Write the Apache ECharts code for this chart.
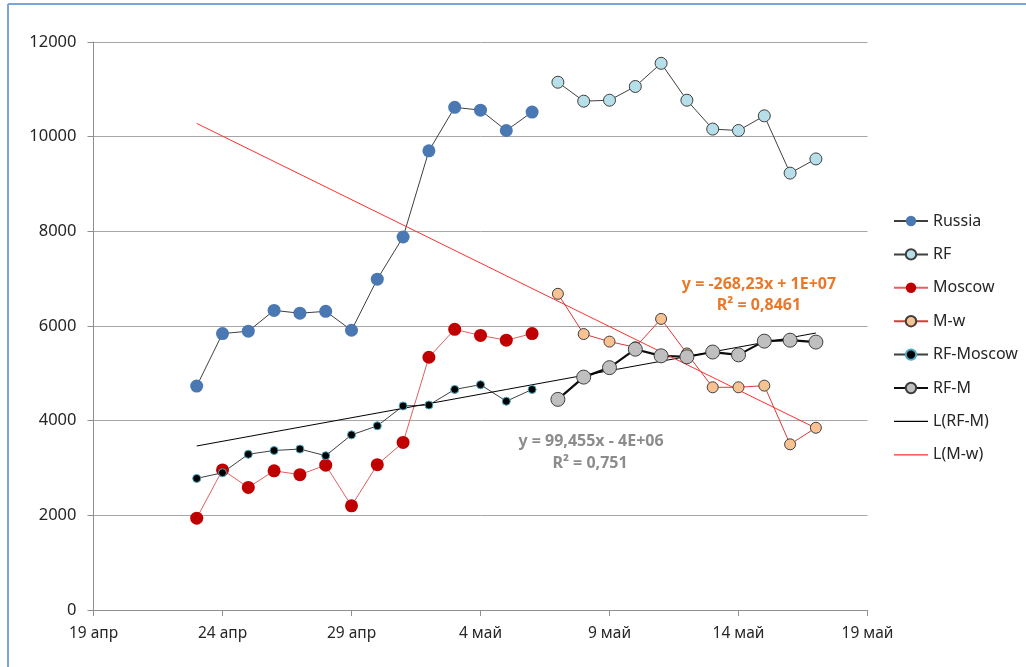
<!DOCTYPE html>
<html>
<head>
<meta charset="utf-8">
<script src="https://cdn.jsdelivr.net/npm/echarts@6/dist/echarts.min.js"></script>
<style>
html,body{margin:0;padding:0;background:#fff;}
#c{width:1026px;height:667px;}
</style>
</head>
<body>
<div id="c"></div>
<script>
// ---- data ----
const axisStart = '2020-04-19';
const tickLabels = ['19 апр', '24 апр', '29 апр', '4 май', '9 май', '14 май', '19 май'];
const yTicks = [0, 2000, 4000, 6000, 8000, 10000, 12000];

const datesA = ['2020-04-23','2020-04-24','2020-04-25','2020-04-26','2020-04-27','2020-04-28','2020-04-29',
                '2020-04-30','2020-05-01','2020-05-02','2020-05-03','2020-05-04','2020-05-05','2020-05-06'];
const datesB = ['2020-05-07','2020-05-08','2020-05-09','2020-05-10','2020-05-11','2020-05-12','2020-05-13',
                '2020-05-14','2020-05-15','2020-05-16','2020-05-17'];

const russia   = [4730, 5840, 5890, 6330, 6270, 6310, 5910, 6990, 7880, 9700, 10620, 10560, 10130, 10520];
const moscow   = [1940, 2960, 2590, 2940, 2860, 3060, 2200, 3070, 3540, 5340, 5930, 5800, 5700, 5840];
const rfMoscow = [2780, 2900, 3290, 3370, 3400, 3260, 3700, 3890, 4310, 4330, 4660, 4760, 4410, 4660];

const rf  = [11150, 10750, 10770, 11060, 11550, 10770, 10160, 10130, 10440, 9230, 9530];
const mw  = [6680, 5830, 5670, 5550, 6150, 5420, 4705, 4705, 4740, 3500, 3850];
const rfM = [4450, 4920, 5120, 5510, 5370, 5350, 5450, 5390, 5680, 5700, 5660];

const trendDates = ['2020-04-23', '2020-05-17'];
const trendRFM = [3465, 5852];
const trendMw  = [10280, 3842];

const eqMw  = ['y = -268,23x + 1E+07', 'R² = 0,8461'];
const eqRFM = ['y = 99,455x - 4E+06', 'R² = 0,751'];

// ---- helpers ----
const DAY = 86400000;
const t0 = Date.parse(axisStart);
const dayOf = d => Math.round((Date.parse(d) - t0) / DAY);
const pairs = (dates, vals) => vals.map((v, i) => [dayOf(dates[i]), v]);

const font = '"Noto Sans", "Open Sans", sans-serif';
const lineIcon = 'path://M0,0 L34,0 L34,1.2 L0,1.2 Z';
const chart = echarts.init(document.getElementById('c'), null, {renderer: 'canvas'});

chart.setOption({
  animation: false,
  backgroundColor: '#ffffff',
  textStyle: {fontFamily: font},
  grid: {left: 93.5, right: 158.5, top: 42, bottom: 57, containLabel: false},
  xAxis: {
    type: 'value', min: 0, max: 30, interval: 5,
    axisLine: {show: true, lineStyle: {color: '#8f8f8f', width: 1}},
    axisTick: {show: true, length: 6, lineStyle: {color: '#8f8f8f'}},
    splitLine: {show: false},
    axisLabel: {
      margin: 16, color: '#262626', fontSize: 15.5, fontFamily: font,
      formatter: v => tickLabels[Math.round(v / 5)]
    }
  },
  yAxis: {
    type: 'value', min: yTicks[0], max: yTicks[yTicks.length - 1], interval: 2000,
    axisLine: {show: true, lineStyle: {color: '#8f8f8f', width: 1}},
    axisTick: {show: true, length: 6, lineStyle: {color: '#8f8f8f'}},
    splitLine: {show: true, lineStyle: {color: '#a6a6a6', width: 1}},
    axisLabel: {margin: 17, color: '#262626', fontSize: 16.5, fontFamily: font, formatter: v => String(v)}
  },
  legend: {
    orient: 'vertical', left: 888, top: 208,
    itemWidth: 34, itemHeight: 13, itemGap: 17.4,
    textStyle: {color: '#262626', fontSize: 16, fontFamily: font},
    data: ['Russia', 'RF', 'Moscow', 'M-w', 'RF-Moscow', 'RF-M',
           {name: 'L(RF-M)', icon: lineIcon, itemStyle: {color: '#000000'}},
           {name: 'L(M-w)', icon: lineIcon, itemStyle: {color: '#ff3030'}}]
  },
  series: [
    {
      name: 'Russia', type: 'line', data: pairs(datesA, russia),
      symbol: 'circle', symbolSize: 13,
      lineStyle: {color: '#3f3f3f', width: 1},
      itemStyle: {color: '#4a78b2', borderColor: '#4a78b2', borderWidth: 0}
    },
    {
      name: 'RF', type: 'line', data: pairs(datesB, rf),
      symbol: 'circle', symbolSize: 12,
      lineStyle: {color: '#3f3f3f', width: 1},
      itemStyle: {color: '#b7dfe9', borderColor: '#3f3f3f', borderWidth: 1}
    },
    {
      name: 'Moscow', type: 'line', data: pairs(datesA, moscow),
      symbol: 'circle', symbolSize: 13,
      lineStyle: {color: '#e06060', width: 1},
      itemStyle: {color: '#c00000', borderColor: '#c00000', borderWidth: 0}
    },
    {
      name: 'M-w', type: 'line', data: pairs(datesB, mw),
      symbol: 'circle', symbolSize: 11,
      lineStyle: {color: '#d83a3a', width: 1},
      itemStyle: {color: '#fac191', borderColor: '#3f3f3f', borderWidth: 1}
    },
    {
      name: 'RF-Moscow', type: 'line', data: pairs(datesA, rfMoscow),
      symbol: 'circle', symbolSize: 8,
      lineStyle: {color: '#3f3f3f', width: 1},
      itemStyle: {color: '#000000', borderColor: '#4bacc6', borderWidth: 1}
    },
    {
      name: 'RF-M', type: 'line', data: pairs(datesB, rfM),
      symbol: 'circle', symbolSize: 14,
      lineStyle: {color: '#0d0d0d', width: 2.2},
      itemStyle: {color: '#bfbfbf', borderColor: '#3f3f3f', borderWidth: 1}
    },
    {
      name: 'L(RF-M)', type: 'line', data: pairs(trendDates, trendRFM),
      symbol: 'none', showSymbol: false,
      lineStyle: {color: '#000000', width: 1},
      itemStyle: {color: '#000000'}
    },
    {
      name: 'L(M-w)', type: 'line', data: pairs(trendDates, trendMw),
      symbol: 'none', showSymbol: false,
      lineStyle: {color: '#ff3030', width: 1},
      itemStyle: {color: '#ff3030'}
    }
  ],
  graphic: [
    {type: 'line', shape: {x1: 8, y1: 4, x2: 1026, y2: 4}, style: {stroke: '#79a5d9', lineWidth: 2}, silent: true},
    {type: 'line', shape: {x1: 8, y1: 4, x2: 8, y2: 667}, style: {stroke: '#79a5d9', lineWidth: 2}, silent: true},
    {type: 'text', x: 759, y: 284, style: {text: eqMw[0], fill: '#e8792b', font: 'bold 16px ' + font, textAlign: 'center', textVerticalAlign: 'middle'}},
    {type: 'text', x: 759, y: 305, style: {text: eqMw[1], fill: '#e8792b', font: 'bold 16px ' + font, textAlign: 'center', textVerticalAlign: 'middle'}},
    {type: 'text', x: 591, y: 441, style: {text: eqRFM[0], fill: '#8c8c8c', font: 'bold 16px ' + font, textAlign: 'center', textVerticalAlign: 'middle'}},
    {type: 'text', x: 590, y: 463, style: {text: eqRFM[1], fill: '#8c8c8c', font: 'bold 16px ' + font, textAlign: 'center', textVerticalAlign: 'middle'}}
  ]
});
</script>
</body>
</html>
